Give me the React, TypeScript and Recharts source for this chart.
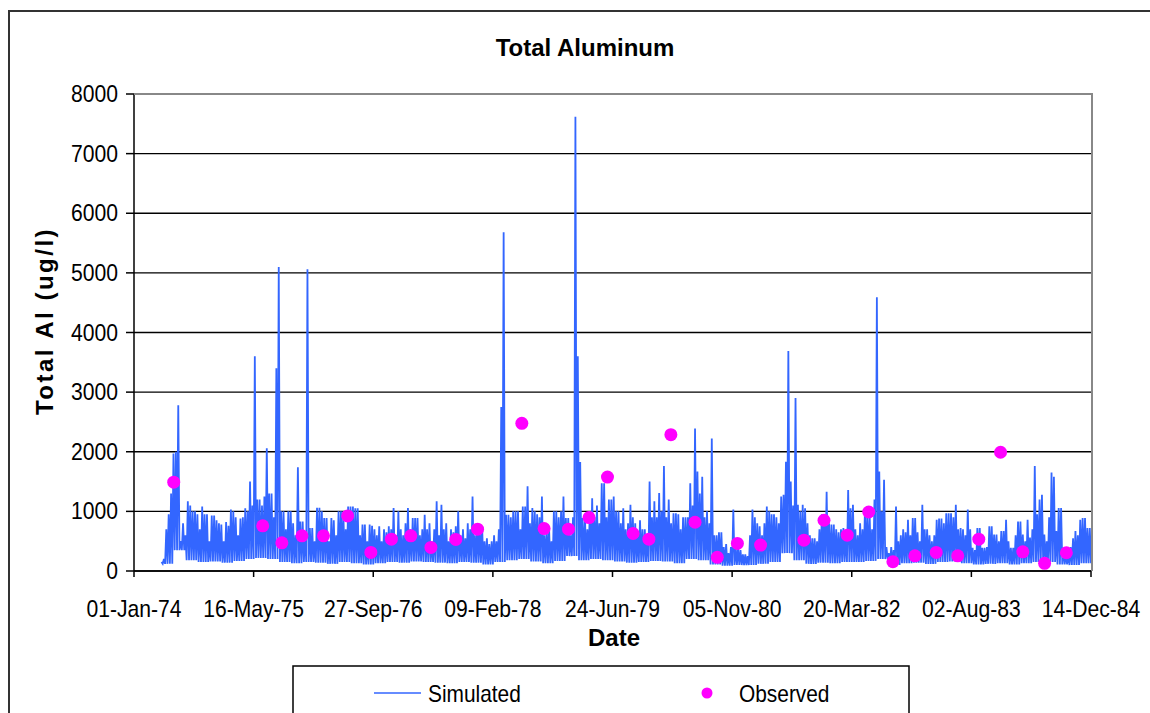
import { CartesianGrid, ComposedChart, Line, Scatter, XAxis, YAxis } from "recharts"

// x axis: days counted from 01-Jan-74, tick every 500 days
const xTickDays = [0, 500, 1000, 1500, 2000, 2500, 3000, 3500, 4000]
const xTickLabels = [
  "01-Jan-74",
  "16-May-75",
  "27-Sep-76",
  "09-Feb-78",
  "24-Jun-79",
  "05-Nov-80",
  "20-Mar-82",
  "02-Aug-83",
  "14-Dec-84",
]
const yTicks = [0, 1000, 2000, 3000, 4000, 5000, 6000, 7000, 8000]

// simulated series in 10-day windows:
// peak of each window, and the low point between peaks (one per 50 days)
const simPeaksA = [
  150, 200, 700, 950, 1300, 1970, 2000, 2780, 500, 800,
  600, 1170, 1100, 1000, 1000, 950, 700, 1080, 950, 950,
  500, 930, 930, 850, 800, 780, 500, 820, 760, 1030,
  1000, 900, 600, 880, 900, 1050, 1000, 1500, 1100,
]
const simLowsA = [120, 350, 180, 150, 160, 140, 170, 200]

const simPeaksB = [
  3600, 1200, 1200, 1100, 1250, 2060, 1300, 1300, 900, 3400,
  5100, 1000, 1000, 700, 1000, 1000, 800, 600, 1740, 830,
  830, 600, 5060, 720, 720, 500, 1060, 1060, 1000, 890,
  890, 500, 890, 850, 600, 1000, 1000, 1000, 700, 1080,
  1080, 1080, 1050, 1050, 600, 780, 780, 500, 780, 760,
]
const simLowsB = [220, 200, 150, 130, 150, 140, 120, 150, 130, 110]

const simPeaksC = [
  700, 600, 750, 500, 700, 650, 750, 700, 1055, 600,
  1000, 700, 600, 800, 1055, 700, 890, 890, 890, 600,
  700, 945, 700, 800, 500, 700, 1170, 600, 1110, 700,
  800, 500, 700, 650, 750, 1000, 600, 700, 550, 800,
  700, 1250, 600, 800, 700, 750, 500, 550, 450, 500,
]
const simLowsC = [130, 150, 140, 160, 150, 140, 130, 150, 140, 110]

const simPeaksD = [
  600, 500, 700, 2750, 5680, 945, 945, 900, 1000, 1000,
  1000, 700, 1080, 1080, 1420, 800, 1055, 1000, 950, 900,
  1250, 600, 720, 700, 500, 1000, 1000, 900, 1000, 1250,
  890, 890, 600, 900, 7620, 3600, 1830, 890, 890, 700,
  1000, 1220, 900, 1100, 800, 1470, 1470, 900, 1200, 1200,
]
const simLowsD = [150, 180, 200, 160, 130, 170, 250, 180, 200, 180]

const simPeaksE = [
  1250, 1000, 1000, 800, 1050, 700, 800, 1110, 900, 800,
  600, 850, 700, 700, 600, 1500, 900, 1170, 900, 1310,
  1000, 1760, 900, 1200, 800, 970, 970, 950, 700, 900,
  900, 900, 1470, 1100, 2390, 1670, 1300, 1580, 900, 1000,
  800, 2220, 600, 600, 650, 650, 400, 450, 300, 400,
]
const simLowsE = [160, 140, 150, 170, 160, 130, 200, 180, 110, 90]

const simPeaksF = [
  1030, 400, 390, 350, 280, 280, 250, 600, 1030, 900,
  800, 750, 600, 800, 1080, 1000, 950, 950, 900, 800,
  1250, 1280, 1830, 3690, 1500, 1100, 2900, 1110, 1000, 1110,
  1050, 800, 600, 550, 550, 500, 700, 950, 950, 1330,
  800, 780, 780, 700, 650, 700, 720, 600, 1360, 1050,
]
const simLowsF = [100, 100, 120, 150, 300, 180, 120, 140, 130, 150]

const simPeaksG = [
  1110, 700, 600, 800, 700, 1000, 1000, 900, 700, 1200,
  4590, 1670, 1000, 1530, 400, 300, 400, 350, 1080, 500,
  600, 700, 650, 860, 600, 890, 890, 650, 500, 1110,
  700, 700, 600, 500, 600, 860, 880, 880, 800, 970,
  970, 970, 900, 1110, 700, 720, 700, 600, 1030, 700,
]
const simLowsG = [150, 170, 200, 100, 130, 140, 120, 150, 160, 130]

const simPeaksH = [
  390, 350, 720, 720, 390, 390, 400, 750, 750, 610,
  610, 500, 670, 670, 860, 500, 390, 390, 600, 830,
  830, 610, 500, 860, 560, 700, 1760, 950, 1200, 1280,
  610, 500, 900, 1650, 1580, 670, 1055, 1055, 390, 300,
  280, 400, 550, 670, 600, 860, 890, 890, 720, 720,
]
const simLowsH = [110, 120, 130, 110, 130, 150, 150, 110, 100, 130]

const simSegments = [
  { startDay: 115, peaks: simPeaksA, lows: simLowsA },
  { startDay: 505, peaks: simPeaksB, lows: simLowsB },
  { startDay: 1005, peaks: simPeaksC, lows: simLowsC },
  { startDay: 1505, peaks: simPeaksD, lows: simLowsD },
  { startDay: 2005, peaks: simPeaksE, lows: simLowsE },
  { startDay: 2505, peaks: simPeaksF, lows: simLowsF },
  { startDay: 3005, peaks: simPeaksG, lows: simLowsG },
  { startDay: 3505, peaks: simPeaksH, lows: simLowsH },
]

// observed samples
const obsDays = [
  166, 538, 618, 702, 792, 893, 990, 1076, 1157, 1241, 1345, 1436,
  1621, 1714, 1816, 1902, 1979, 2086, 2152, 2244, 2345, 2438, 2522, 2619,
  2800, 2884, 2981, 3071, 3172, 3264, 3353, 3443, 3531, 3622, 3715, 3806, 3897,
]
const obsValues = [
  1490, 757, 473, 590, 590, 923, 312, 534, 590, 395, 529, 701,
  2476, 712, 701, 896, 1575, 629, 534, 2287, 818, 229, 462, 434,
  517, 851, 601, 990, 155, 255, 312, 255, 534, 1992, 322, 128, 306,
]

const simData: { day: number; sim: number }[] = []
simSegments.forEach((seg) => {
  seg.peaks.forEach((p, i) => {
    simData.push({ day: seg.startDay + i * 10, sim: p })
    simData.push({ day: seg.startDay + i * 10 + 5, sim: seg.lows[Math.floor(i / 5)] })
  })
})
const obsData = obsDays.map((d, i) => ({ day: d, obs: obsValues[i] }))

const font = "'Liberation Sans', Arial, sans-serif"
const simColor = "#3366ff"
const obsColor = "#ff00ff"

const XTick = (props: any) => {
  const { x, y, payload } = props
  const label = xTickLabels[xTickDays.indexOf(payload.value)]
  return (
    <g transform={`translate(${x},${y})`}>
      <text transform="scale(0.88,1)" textAnchor="middle" y={40} fontSize={24} fontFamily={font} fill="#000">
        {label}
      </text>
    </g>
  )
}

const YTick = (props: any) => {
  const { x, y, payload } = props
  return (
    <g transform={`translate(${x},${y})`}>
      <text transform="scale(0.88,1)" textAnchor="end" y={8} fontSize={24} fontFamily={font} fill="#000">
        {payload.value}
      </text>
    </g>
  )
}

export default function App() {
  return (
    <div style={{ position: "absolute", left: 0, top: 0, width: 1150, height: 713, overflow: "hidden", background: "#fff" }}>
      <div
        style={{
          position: "absolute",
          left: 8,
          top: 10,
          width: 1160,
          height: 720,
          border: "2px solid #333",
          boxSizing: "border-box",
        }}
      />
      <div style={{ position: "absolute", left: 0, top: 0 }}>
        <ComposedChart width={1150} height={713} margin={{ top: 94, right: 59, left: 34, bottom: 82 }}>
          <CartesianGrid vertical={false} stroke="#000" strokeWidth={1.3} />
          <XAxis
            dataKey="day"
            type="number"
            domain={[0, 4000]}
            ticks={xTickDays}
            allowDataOverflow
            height={60}
            tickSize={6}
            tickMargin={0}
            tick={<XTick />}
            axisLine={{ stroke: "#000", strokeWidth: 1.5 }}
            tickLine={{ stroke: "#000", strokeWidth: 1.5 }}
            interval={0}
          />
          <YAxis
            type="number"
            domain={[0, 8000]}
            ticks={yTicks}
            width={100}
            tickSize={8}
            tickMargin={8}
            tick={<YTick />}
            axisLine={{ stroke: "#000", strokeWidth: 1.5 }}
            tickLine={{ stroke: "#000", strokeWidth: 1.5 }}
            interval={0}
          />
          <Line
            data={simData}
            dataKey="sim"
            type="linear"
            stroke={simColor}
            strokeWidth={1.8}
            dot={false}
            activeDot={false}
            isAnimationActive={false}
          />
          <Scatter
            data={obsData}
            dataKey="obs"
            fill={obsColor}
            isAnimationActive={false}
            shape={(p: any) => <circle cx={p.cx} cy={p.cy} r={6.5} fill={obsColor} />}
          />
        </ComposedChart>
      </div>
      <svg width={1150} height={713} style={{ position: "absolute", left: 0, top: 0, pointerEvents: "none" }}>
        {/* plot area border */}
        <polyline points="134,94 1092,94 1092,571" fill="none" stroke="#888" strokeWidth={2} />
        <text x={585} y={56} textAnchor="middle" fontSize={24} fontWeight="bold" fontFamily={font} fill="#000">
          Total Aluminum
        </text>
        <text x={614} y={646} textAnchor="middle" fontSize={24} fontWeight="bold" fontFamily={font} fill="#000">
          Date
        </text>
        <text
          transform="translate(53,321) rotate(-90)"
          textAnchor="middle"
          fontSize={24}
          fontWeight="bold"
          letterSpacing={2.5}
          fontFamily={font}
          fill="#000"
        >
          Total Al (ug/l)
        </text>
        {/* legend */}
        <rect x={293} y={666} width={616} height={70} fill="#fff" stroke="#000" strokeWidth={1.5} />
        <line x1={374} y1={693} x2={421} y2={693} stroke={simColor} strokeWidth={1.5} />
        <text x={428} y={702} transform="translate(428,0) scale(0.87,1) translate(-428,0)" fontSize={24} fontFamily={font} fill="#000">
          Simulated
        </text>
        <circle cx={707} cy={693} r={5.5} fill={obsColor} />
        <text x={739} y={702} transform="translate(739,0) scale(0.87,1) translate(-739,0)" fontSize={24} fontFamily={font} fill="#000">
          Observed
        </text>
      </svg>
    </div>
  )
}
